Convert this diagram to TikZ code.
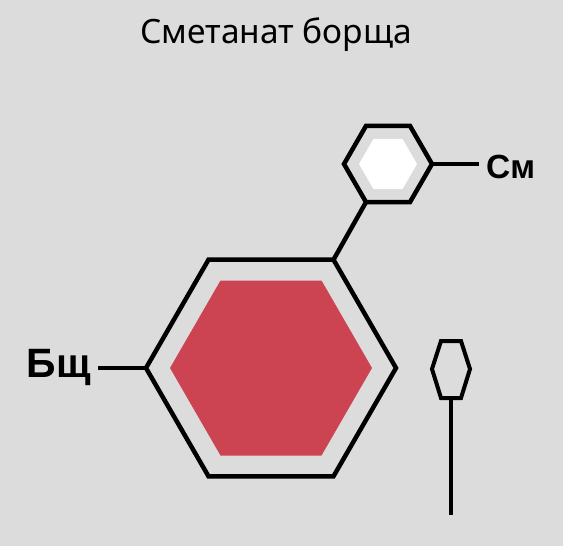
\documentclass[tikz,border=0pt]{standalone}
\usepackage{fontspec}
\setmainfont{Noto Sans}
\newfontfamily\labfont{Liberation Sans}
\definecolor{bg}{HTML}{DCDCDC}
\definecolor{borsch}{HTML}{CC4452}
\begin{document}
\begin{tikzpicture}[x=1pt,y=-1pt,
  hexline/.style={draw=black,line width=4.5pt,line join=miter},
  bondline/.style={draw=black,line width=4.5pt},
  thinbond/.style={draw=black,line width=4pt},
  biglabel/.style={font=\labfont\bfseries\fontsize{41}{41}\selectfont,inner sep=0pt},
  smalllabel/.style={font=\labfont\bfseries\fontsize{33.5}{33.5}\selectfont,inner sep=0pt},
  titlefont/.style={font=\fontsize{33.5}{33.5}\selectfont,inner sep=0pt}]
\fill[bg] (0,0) rectangle (563,546);
\useasboundingbox (0,0) rectangle (563,546);
% title
\node[titlefont,anchor=base] (title) at (276,43) {Сметанат борща};
% big hexagon
\coordinate (bigL) at (146,368);
\coordinate (bigTL) at (208.5,259.7);
\coordinate (bigTR) at (333.5,259.7);
\coordinate (bigR) at (396,368);
\coordinate (bigBR) at (333.5,476.3);
\coordinate (bigBL) at (208.5,476.3);
\draw[hexline] (bigL) -- (bigTL) -- (bigTR) -- (bigR) -- (bigBR) -- (bigBL) -- cycle;
\fill[borsch] (170,368) -- (220.5,280.5) -- (321.5,280.5) -- (372,368) -- (321.5,455.5) -- (220.5,455.5) -- cycle;
% small hexagon
\coordinate (smL) at (344,164);
\coordinate (smTL) at (366,125.9);
\coordinate (smTR) at (410,125.9);
\coordinate (smR) at (432,164);
\coordinate (smBR) at (410,202.1);
\coordinate (smBL) at (366,202.1);
\draw[hexline] (smL) -- (smTL) -- (smTR) -- (smR) -- (smBR) -- (smBL) -- cycle;
\fill[white] (359,164) -- (373.5,138.9) -- (402.5,138.9) -- (417,164) -- (402.5,189.1) -- (373.5,189.1) -- cycle;
% bond between hexagons
\draw[bondline] (smBL) -- (bigTR);
% labels
\node[smalllabel,anchor=base west] (cm) at (486,178) {См};
\coordinate (cmEnd) at (479,164);
\draw[bondline] (smR) -- (cmEnd);
\node[biglabel,anchor=base east] (bsch) at (91,377) {Бщ};
\coordinate (bschEnd) at (98,368);
\draw[bondline] (bschEnd) -- (bigL);
% spoon
\coordinate (spT1) at (441,341);
\coordinate (spT2) at (461,341);
\coordinate (spR) at (470,369);
\coordinate (spB2) at (461,398);
\coordinate (spB1) at (441,398);
\coordinate (spL) at (432,369);
\coordinate (spNeck) at (451,398);
\coordinate (spEnd) at (451,515);
\draw[thinbond,line join=miter] (spT1) -- (spT2) -- (spR) -- (spB2) -- (spB1) -- (spL) -- cycle;
\draw[thinbond] (spNeck) -- (spEnd);
\end{tikzpicture}
\end{document}
